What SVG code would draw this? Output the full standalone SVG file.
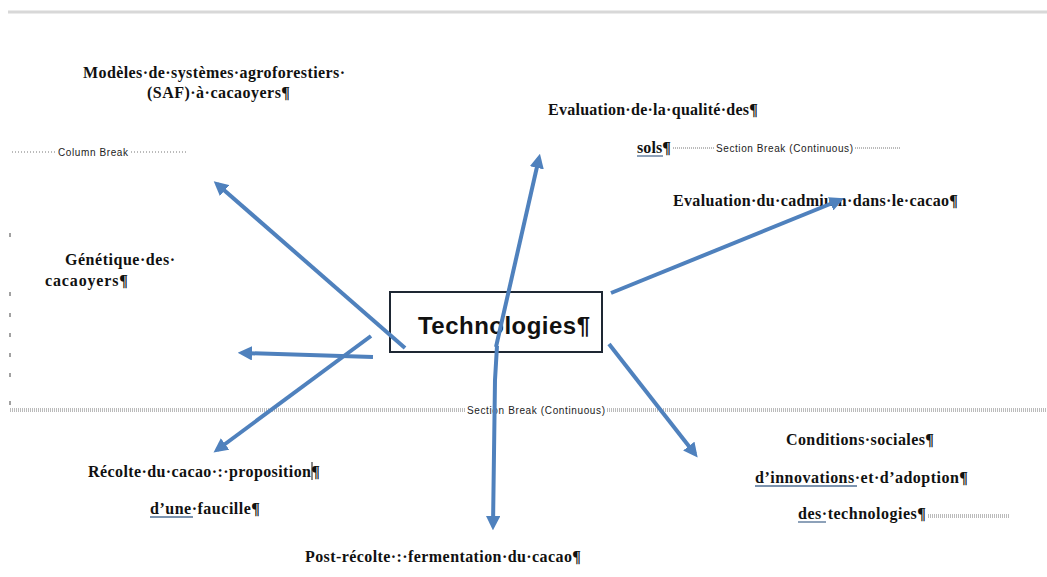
<svg xmlns="http://www.w3.org/2000/svg" width="1047" height="577" viewBox="0 0 1047 577">
<style>
.t{font-family:"Liberation Serif","Times New Roman",serif;font-weight:bold;font-size:16px;fill:#111}
.m{font-family:"Liberation Sans",Arial,sans-serif;font-size:10px;fill:#222}
.dot{stroke:#777;stroke-width:1;stroke-dasharray:1 1;fill:none}
.dot2{stroke:#777;stroke-width:1;stroke-dasharray:1 2;fill:none}
.ul{stroke:#4f6f94;stroke-width:1.3;fill:none}
.tick{stroke:#444;stroke-width:1}
.arr{stroke:#4f81bd;stroke-width:4;fill:none;marker-end:url(#ah);stroke-linecap:butt}
.ln{stroke:#4f81bd;stroke-width:4;fill:none}
</style>
<defs>
<marker id="ah" viewBox="0 0 10 10" refX="7" refY="5" markerWidth="3.6" markerHeight="3.6" orient="auto" markerUnits="strokeWidth">
<path d="M0,0 L10,5 L0,10 z" fill="#4f81bd"/>
</marker>
</defs>
<rect x="0" y="0" width="1047" height="577" fill="#fff"/>
<line x1="8" y1="12" x2="1047" y2="12" stroke="#d8d8d8" stroke-width="3"/>

<g id="margin">
<line class="tick" x1="10" y1="233" x2="10" y2="237"/>
<line class="tick" x1="10" y1="292" x2="10" y2="296"/>
<line class="tick" x1="10" y1="313" x2="10" y2="317"/>
<line class="tick" x1="10" y1="333" x2="10" y2="337"/>
<line class="tick" x1="10" y1="353" x2="10" y2="357"/>
<line class="tick" x1="10" y1="373" x2="10" y2="377"/>
<line class="tick" x1="10" y1="401" x2="10" y2="405"/>
</g>

<g id="breaks">
<line class="dot2" x1="12" y1="152" x2="56" y2="152"/>
<text class="m" x="58" y="155.5" textLength="70">Column Break</text>
<line class="dot2" x1="131" y1="152" x2="186" y2="152"/>
<line class="dot" x1="673" y1="148" x2="715" y2="148"/>
<text class="m" x="716" y="151.5" textLength="137">Section Break (Continuous)</text>
<line class="dot" x1="855" y1="148" x2="900" y2="148"/>
<line class="dot" x1="10" y1="409" x2="465" y2="409"/>
<line class="dot" x1="10" y1="411" x2="465" y2="411"/>
<text class="m" x="467" y="413.5" textLength="138">Section Break (Continuous)</text>
<line class="dot" x1="607" y1="409" x2="1047" y2="409"/>
<line class="dot" x1="607" y1="411" x2="1047" y2="411"/>
<line class="dot" x1="928" y1="515" x2="1010" y2="515"/>
<line class="dot" x1="928" y1="517" x2="1010" y2="517"/>
</g>

<g id="saf">
<text class="t" x="83" y="78" textLength="262">Modèles·de·systèmes·agroforestiers·</text>
<text class="t" x="147" y="98" textLength="143">(SAF)·à·cacaoyers¶</text>
</g>
<g id="sols">
<text class="t" x="548" y="115" textLength="210">Evaluation·de·la·qualité·des¶</text>
<text class="t" x="637" y="153" textLength="34">sols¶</text>
<line class="ul" x1="637" y1="156" x2="663" y2="156"/>
</g>
<g id="cadmium">
<text class="t" x="673" y="206" textLength="285">Evaluation·du·cadmium·dans·le·cacao¶</text>
</g>
<g id="genetique">
<text class="t" x="65" y="265" textLength="110">Génétique·des·</text>
<text class="t" x="45" y="286" textLength="83">cacaoyers¶</text>
</g>
<g id="recolte">
<text class="t" x="88" y="477" textLength="232">Récolte·du·cacao·:·proposition¶</text>
<line x1="312" y1="462" x2="312" y2="480" stroke="#111" stroke-width="1"/>
<text class="t" x="150" y="514" textLength="110">d’une·faucille¶</text>
<line class="ul" x1="150" y1="517" x2="193" y2="517"/>
</g>
<g id="postrecolte">
<text class="t" x="305" y="562" textLength="276">Post-récolte·:·fermentation·du·cacao¶</text>
</g>
<g id="conditions">
<text class="t" x="786" y="445" textLength="148">Conditions·sociales¶</text>
<text class="t" x="755" y="483" textLength="213">d’innovations·et·d’adoption¶</text>
<line class="ul" x1="755" y1="486" x2="857" y2="486"/>
<text class="t" x="798" y="519" textLength="128">des·technologies¶</text>
<line class="ul" x1="798" y1="522" x2="826" y2="522"/>
</g>

<g id="technologies">
<rect x="390" y="292" width="212" height="60" fill="none" stroke="#1e2733" stroke-width="2"/>
<text x="418" y="334" font-family="'Liberation Sans',Arial,sans-serif" font-weight="bold" font-size="24" fill="#111" textLength="172">Technologies¶</text>
</g>

<g id="connectors">
<line class="arr" x1="405" y1="348" x2="217" y2="184"/>
<line class="arr" x1="373" y1="357" x2="242" y2="353"/>
<line class="arr" x1="371" y1="336" x2="217" y2="450"/>
<line class="arr" x1="496" y1="347" x2="539" y2="158"/>
<polyline class="arr" points="497,346 495,380 493,526"/>
<line class="arr" x1="611" y1="293" x2="840" y2="200"/>
<line class="arr" x1="609" y1="344" x2="695" y2="454"/>
</g>
</svg>
